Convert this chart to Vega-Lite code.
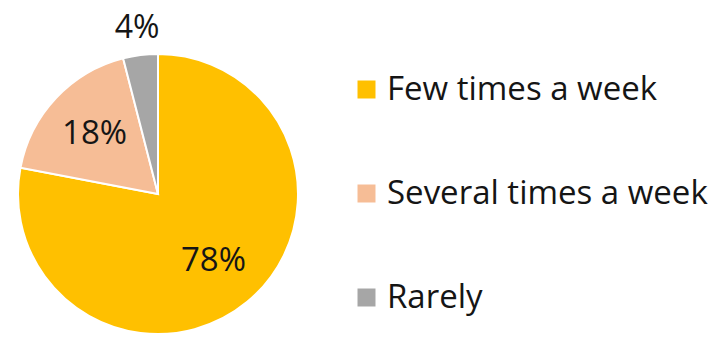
{
  "$schema": "https://vega.github.io/schema/vega-lite/v6.json",
  "autosize": {"type": "none"},
  "padding": {"left": 18, "top": 54, "right": 416, "bottom": 5},
  "width": 280,
  "height": 280,
  "background": "white",
  "config": {"view": {"stroke": null}, "font": "Open Sans"},
  "data": {
    "values": [
      {"frequency": "Few times a week", "share": 78},
      {"frequency": "Several times a week", "share": 18},
      {"frequency": "Rarely", "share": 4}
    ]
  },
  "transform": [
    {"calculate": "datum.share >= 10 ? datum.share + '%' : ''", "as": "inside"},
    {"calculate": "datum.share < 10 ? datum.share + '%' : ''", "as": "outside"}
  ],
  "encoding": {
    "theta": {"field": "share", "type": "quantitative", "stack": true},
    "order": {"field": "share", "sort": "descending"},
    "color": {
      "field": "frequency",
      "type": "nominal",
      "scale": {
        "domain": ["Few times a week", "Several times a week", "Rarely"],
        "range": ["#FFC000", "#F6BD96", "#A6A6A6"]
      },
      "legend": {
        "title": null,
        "orient": "none",
        "legendX": 332,
        "legendY": 19,
        "symbolType": "square",
        "symbolSize": 324,
        "symbolStrokeWidth": 0,
        "labelFontSize": 33,
        "labelFont": "Open Sans",
        "labelColor": "#151515",
        "labelOffset": 4,
        "rowPadding": 70,
        "padding": 0,
        "labelLimit": 400
      }
    }
  },
  "layer": [
    {
      "mark": {"type": "arc", "stroke": "white", "strokeWidth": 2}
    },
    {
      "mark": {"type": "text", "radius": 87, "fontSize": 33},
      "encoding": {
        "text": {"field": "inside", "type": "nominal"},
        "color": {"value": "#151515"}
      }
    },
    {
      "mark": {"type": "text", "radius": 167, "fontSize": 32},
      "encoding": {
        "text": {"field": "outside", "type": "nominal"},
        "color": {"value": "#151515"}
      }
    }
  ]
}
